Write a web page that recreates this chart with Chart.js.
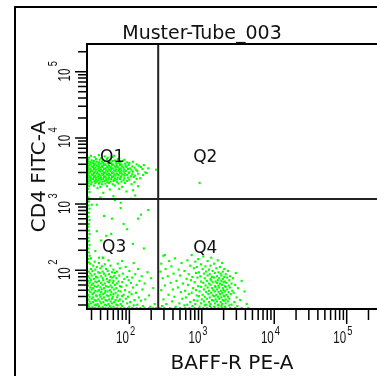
<!DOCTYPE html>
<html>
<head>
<meta charset="utf-8">
<title>Muster-Tube_003</title>
<script src="https://cdn.jsdelivr.net/npm/chart.js@4/dist/chart.umd.min.js"></script>
<style>
    html, body { margin: 0; padding: 0; background: #fff; overflow: hidden; }
    canvas { display: block; }
</style>
</head>
<body>
<canvas id="dotPlot" width="377" height="376"></canvas>
<script>
/**
 * Muster-Tube_003 - BAFF-R PE-A vs CD4 FITC-A dot plot
 * Events are kept as [log10 BAFF-R, log10 CD4] pairs.
 */

const TITLE = 'Muster-Tube_003';
const X_LABEL = 'BAFF-R PE-A';
const Y_LABEL = 'CD4 FITC-A';

// Axis range (fluorescence intensity) and quadrant gate
const AXIS_MIN = 26;
const AXIS_MAX = 262144;
const GATE_X = 250;
const GATE_Y = 1190;

const QUADRANTS = ['Q1', 'Q2', 'Q3', 'Q4'];

// Decade tick labels (10^n) and minor tick values
const X_EXPONENTS = [2, 3, 4, 5];
const Y_EXPONENTS = [2, 3, 4, 5];
const MINOR_TICKS = [
    30, 40, 50, 60, 70, 80, 90,
    200, 300, 400, 500, 600, 700, 800, 900,
    2000, 3000, 4000, 5000, 6000, 7000, 8000, 9000,
    20000, 30000, 40000, 50000, 60000, 70000, 80000, 90000,
    200000
];

// Q1: CD4+ BAFF-R- events
const q1Log = [
    [1.47,3.73],[1.58,3.74],[1.66,3.72],[1.79,3.73],
    [1.44,3.70],[1.52,3.71],[1.61,3.69],[1.70,3.70],[1.77,3.71],[1.86,3.69],
    [1.43,3.67],[1.48,3.66],[1.54,3.68],[1.59,3.67],[1.64,3.66],[1.69,3.68],[1.74,3.67],[1.80,3.66],[1.84,3.68],[1.93,3.67],
    [1.44,3.64],[1.47,3.63],[1.51,3.65],[1.55,3.64],[1.58,3.63],[1.62,3.64],[1.66,3.65],[1.70,3.63],[1.73,3.64],[1.77,3.65],[1.82,3.63],[1.87,3.64],[1.91,3.65],[1.97,3.63],[2.05,3.64],
    [1.43,3.61],[1.46,3.60],[1.50,3.62],[1.53,3.61],[1.57,3.60],[1.60,3.61],[1.64,3.62],[1.67,3.60],[1.71,3.61],[1.75,3.62],[1.78,3.60],[1.82,3.61],[1.86,3.62],[1.89,3.60],[1.94,3.61],[2.00,3.62],[2.10,3.60],
    [1.44,3.58],[1.48,3.57],[1.51,3.59],[1.55,3.58],[1.58,3.57],[1.62,3.58],[1.65,3.59],[1.69,3.57],[1.72,3.58],[1.76,3.59],[1.80,3.57],[1.83,3.58],[1.87,3.59],[1.90,3.57],[1.95,3.58],[1.99,3.59],[2.04,3.57],[2.13,3.58],[2.20,3.59],
    [1.43,3.55],[1.46,3.54],[1.50,3.56],[1.53,3.55],[1.57,3.54],[1.60,3.55],[1.63,3.56],[1.67,3.54],[1.70,3.55],[1.74,3.56],[1.77,3.54],[1.81,3.55],[1.84,3.56],[1.88,3.54],[1.92,3.55],[1.96,3.56],[2.01,3.54],[2.07,3.55],[2.16,3.56],[2.26,3.54],
    [1.44,3.52],[1.47,3.51],[1.51,3.53],[1.54,3.52],[1.58,3.51],[1.61,3.52],[1.65,3.53],[1.68,3.51],[1.72,3.52],[1.75,3.53],[1.79,3.51],[1.82,3.52],[1.86,3.53],[1.89,3.51],[1.93,3.52],[1.98,3.53],[2.03,3.51],[2.09,3.52],[2.18,3.53],[2.37,3.52],
    [1.43,3.49],[1.46,3.48],[1.49,3.50],[1.53,3.49],[1.56,3.48],[1.60,3.49],[1.63,3.50],[1.67,3.48],[1.70,3.49],[1.74,3.50],[1.77,3.48],[1.81,3.49],[1.85,3.50],[1.88,3.48],[1.92,3.49],[1.95,3.50],[2.00,3.48],[2.05,3.49],[2.11,3.50],[2.22,3.48],
    [1.44,3.46],[1.48,3.45],[1.51,3.47],[1.55,3.46],[1.58,3.45],[1.62,3.46],[1.65,3.47],[1.69,3.45],[1.72,3.46],[1.76,3.47],[1.79,3.45],[1.83,3.46],[1.87,3.47],[1.90,3.45],[1.94,3.46],[1.99,3.47],[2.04,3.45],[2.12,3.46],[2.24,3.47],
    [1.43,3.43],[1.46,3.42],[1.50,3.44],[1.53,3.43],[1.57,3.42],[1.60,3.43],[1.64,3.44],[1.67,3.42],[1.71,3.43],[1.74,3.44],[1.78,3.42],[1.81,3.43],[1.85,3.44],[1.89,3.42],[1.93,3.43],[1.97,3.44],[2.02,3.42],[2.08,3.43],[2.19,3.44],
    [1.44,3.40],[1.47,3.39],[1.51,3.41],[1.54,3.40],[1.58,3.39],[1.61,3.40],[1.65,3.41],[1.68,3.39],[1.72,3.40],[1.76,3.41],[1.80,3.39],[1.84,3.40],[1.88,3.41],[1.93,3.39],[1.98,3.40],[2.06,3.41],[2.15,3.39],
    [1.43,3.37],[1.46,3.36],[1.50,3.38],[1.54,3.37],[1.57,3.36],[1.61,3.37],[1.64,3.38],[1.68,3.36],[1.71,3.37],[1.75,3.38],[1.79,3.36],[1.83,3.37],[1.87,3.38],[1.92,3.36],[2.00,3.37],[2.10,3.38],
    [1.44,3.34],[1.48,3.33],[1.52,3.35],[1.55,3.34],[1.59,3.33],[1.63,3.34],[1.66,3.35],[1.70,3.33],[1.74,3.34],[1.78,3.35],[1.83,3.33],[1.89,3.34],[1.97,3.35],[2.07,3.33],
    [1.43,3.31],[1.47,3.30],[1.53,3.32],[1.58,3.31],[1.62,3.30],[1.67,3.31],[1.72,3.32],[1.77,3.30],[1.85,3.31],[1.94,3.32],[2.03,3.30],
    [1.44,3.27],[1.51,3.28],[1.60,3.26],[1.69,3.27],[1.80,3.28],[1.90,3.26],[2.12,3.27],
    [1.43,3.23],[1.56,3.24],[1.73,3.22],[1.86,3.23],[2.05,3.21],
    [1.45,3.18],[1.64,3.17],[1.96,3.19],[2.08,3.13],
    [1.43,3.10],[1.60,3.10],[1.78,3.12],[2.02,3.08]
];

// Q2: double positive (a single event)
const q2Log = [
    [2.97,3.32]
];

// Q3: double negative events, below the gate and along the left edge
const q3Log = [
    [1.44,3.04],[1.43,2.98],[1.45,2.93],[1.44,2.87],[1.43,2.81],[1.45,2.76],[1.44,2.70],[1.43,2.66],[1.44,2.60],[1.45,2.55],
    [1.43,2.49],[1.44,2.44],[1.45,2.38],[1.43,2.33],[1.44,2.27],[1.45,2.22],[1.43,2.17],[1.44,2.12],
    [1.55,2.99],[1.48,2.99],[1.80,3.06],[1.88,3.02],[1.88,2.94],[2.26,2.91],[2.16,2.84],[2.12,2.78],[1.65,2.82],[1.76,2.78],
    [1.97,2.62],[1.55,2.59],[1.68,2.52],[1.75,2.55],[2.05,2.40],[1.53,2.29],[1.64,2.19],[1.58,2.19],[1.92,2.70],[1.61,2.45],[2.20,2.33],
    [1.47,2.18],[1.63,2.19],
    [1.52,2.13],[1.71,2.15],[1.90,2.14],
    [1.46,2.10],[1.58,2.11],[1.66,2.09],[1.84,2.10],[2.06,2.11],
    [1.50,2.07],[1.55,2.05],[1.62,2.06],[1.74,2.07],[1.95,2.05],
    [1.47,2.02],[1.53,2.01],[1.60,2.03],[1.68,2.02],[1.78,2.01],[1.87,2.03],[2.12,2.02],
    [1.44,1.98],[1.49,1.99],[1.57,1.97],[1.63,1.98],[1.70,1.99],[1.76,1.97],[1.83,1.98],[2.00,1.99],[2.25,1.97],
    [1.46,1.95],[1.52,1.94],[1.59,1.96],[1.65,1.95],[1.72,1.94],[1.80,1.96],[1.91,1.95],[2.08,1.94],
    [1.43,1.91],[1.48,1.92],[1.54,1.90],[1.61,1.91],[1.67,1.92],[1.74,1.90],[1.79,1.91],[1.86,1.92],[1.97,1.90],[2.17,1.91],
    [1.45,1.88],[1.51,1.87],[1.56,1.89],[1.63,1.88],[1.69,1.87],[1.76,1.89],[1.82,1.88],[1.93,1.87],[2.04,1.89],[2.30,1.88],
    [1.43,1.84],[1.47,1.85],[1.53,1.83],[1.58,1.84],[1.64,1.85],[1.70,1.83],[1.73,1.85],[1.78,1.84],[1.85,1.83],[1.99,1.85],[2.14,1.84],
    [1.45,1.81],[1.50,1.80],[1.55,1.82],[1.61,1.81],[1.66,1.80],[1.72,1.82],[1.77,1.81],[1.83,1.80],[1.90,1.82],[2.02,1.81],[2.21,1.80],
    [1.43,1.77],[1.48,1.78],[1.52,1.76],[1.57,1.77],[1.63,1.78],[1.68,1.76],[1.74,1.77],[1.80,1.78],[1.87,1.76],[1.96,1.77],[2.10,1.78],
    [1.46,1.74],[1.50,1.73],[1.55,1.75],[1.60,1.74],[1.65,1.73],[1.71,1.75],[1.76,1.74],[1.82,1.73],[1.89,1.75],[2.05,1.74],[2.33,1.73],
    [1.44,1.70],[1.48,1.71],[1.53,1.69],[1.58,1.70],[1.62,1.71],[1.67,1.69],[1.73,1.70],[1.79,1.71],[1.85,1.69],[1.94,1.70],[2.18,1.71],
    [1.46,1.67],[1.51,1.66],[1.56,1.68],[1.61,1.67],[1.66,1.66],[1.70,1.68],[1.75,1.67],[1.81,1.66],[1.88,1.68],[2.00,1.67],[2.09,1.66],
    [1.43,1.63],[1.49,1.64],[1.54,1.62],[1.59,1.63],[1.64,1.64],[1.69,1.62],[1.74,1.63],[1.78,1.64],[1.84,1.62],[1.92,1.63],[2.03,1.64],[2.27,1.62],
    [1.45,1.60],[1.50,1.59],[1.55,1.61],[1.60,1.60],[1.65,1.59],[1.71,1.61],[1.77,1.60],[1.83,1.59],[1.90,1.61],[1.98,1.60],[2.13,1.59],
    [1.43,1.56],[1.48,1.57],[1.52,1.55],[1.57,1.56],[1.62,1.57],[1.67,1.55],[1.72,1.56],[1.76,1.57],[1.81,1.55],[1.87,1.56],[1.95,1.57],[2.07,1.55],[2.22,1.56],
    [1.45,1.53],[1.50,1.52],[1.54,1.54],[1.59,1.53],[1.64,1.52],[1.69,1.54],[1.74,1.53],[1.79,1.52],[1.85,1.54],[1.91,1.53],[2.01,1.52],[2.16,1.54],
    [1.43,1.49],[1.47,1.50],[1.52,1.48],[1.56,1.49],[1.61,1.50],[1.66,1.48],[1.71,1.49],[1.76,1.50],[1.82,1.48],[1.88,1.49],[1.97,1.50],[2.11,1.48],[2.35,1.49],
    [1.44,1.46],[1.49,1.45],[1.54,1.47],[1.58,1.46],[1.63,1.45],[1.68,1.47],[1.73,1.46],[1.78,1.45],[1.84,1.47],[1.90,1.46],[2.00,1.45],[2.06,1.47],[2.19,1.46],[2.29,1.45],
    [1.43,1.43],[1.46,1.43],[1.50,1.43],[1.53,1.43],[1.57,1.43],[1.60,1.43],[1.64,1.43],[1.67,1.43],[1.71,1.43],[1.75,1.43],[1.79,1.43],
    [1.83,1.43],[1.88,1.43],[1.93,1.43],[1.98,1.43],[2.04,1.43],[2.10,1.43],[2.15,1.43],[2.21,1.43],[2.27,1.43],[2.33,1.43],[2.37,1.43]
];

// Q4: BAFF-R+ CD4- events
const q4Log = [
    [2.49,2.23],[2.47,2.22],[2.86,2.23],[3.02,2.21],
    [2.63,2.18],[2.95,2.17],[3.13,2.19],
    [2.55,2.14],[2.80,2.15],[2.91,2.13],[3.08,2.14],[3.22,2.15],
    [2.44,2.10],[2.72,2.11],[2.99,2.09],[3.17,2.10],[3.28,2.11],
    [2.58,2.06],[2.84,2.07],[2.93,2.05],[3.05,2.06],[3.12,2.07],[3.25,2.05],
    [2.50,2.02],[2.68,2.01],[2.89,2.03],[3.01,2.02],[3.10,2.01],[3.20,2.03],[3.31,2.02],
    [2.43,1.98],[2.76,1.99],[2.96,1.97],[3.06,1.98],[3.15,1.99],[3.23,1.97],[3.29,1.98],[3.36,1.99],
    [2.61,1.95],[2.82,1.94],[2.92,1.96],[3.03,1.95],[3.11,1.94],[3.18,1.96],[3.26,1.95],[3.33,1.94],[3.47,1.96],
    [2.53,1.91],[2.70,1.92],[2.87,1.90],[2.98,1.91],[3.08,1.92],[3.14,1.90],[3.21,1.91],[3.27,1.92],[3.31,1.90],[3.39,1.91],
    [2.46,1.88],[2.79,1.87],[2.94,1.89],[3.04,1.88],[3.12,1.87],[3.17,1.89],[3.24,1.88],[3.29,1.87],[3.35,1.89],[3.43,1.88],
    [2.65,1.84],[2.85,1.85],[2.99,1.83],[3.07,1.84],[3.13,1.85],[3.19,1.83],[3.22,1.85],[3.27,1.84],[3.32,1.83],[3.38,1.85],[3.55,1.84],
    [2.57,1.81],[2.74,1.80],[2.90,1.82],[3.02,1.81],[3.10,1.80],[3.15,1.82],[3.21,1.81],[3.25,1.80],[3.30,1.82],[3.34,1.81],[3.41,1.80],
    [2.49,1.77],[2.81,1.78],[2.95,1.76],[3.05,1.77],[3.12,1.78],[3.18,1.76],[3.23,1.77],[3.28,1.78],[3.32,1.76],[3.37,1.77],[3.46,1.78],
    [2.67,1.74],[2.88,1.73],[2.99,1.75],[3.08,1.74],[3.14,1.73],[3.19,1.75],[3.24,1.74],[3.29,1.73],[3.33,1.75],[3.39,1.74],[3.50,1.73],
    [2.44,1.70],[2.60,1.71],[2.77,1.69],[2.92,1.70],[3.03,1.71],[3.10,1.69],[3.16,1.70],[3.21,1.71],[3.26,1.69],[3.30,1.70],[3.35,1.71],[3.42,1.69],
    [2.71,1.67],[2.86,1.66],[2.97,1.68],[3.06,1.67],[3.13,1.66],[3.18,1.68],[3.23,1.67],[3.28,1.66],[3.32,1.68],[3.37,1.67],[3.44,1.66],[3.59,1.68],
    [2.54,1.63],[2.82,1.64],[2.93,1.62],[3.01,1.63],[3.09,1.64],[3.15,1.62],[3.20,1.63],[3.25,1.64],[3.30,1.62],[3.34,1.63],[3.40,1.64],
    [2.62,1.60],[2.78,1.59],[2.96,1.61],[3.04,1.60],[3.11,1.59],[3.17,1.61],[3.22,1.60],[3.27,1.59],[3.31,1.61],[3.36,1.60],[3.48,1.59],
    [2.47,1.56],[2.73,1.57],[2.89,1.55],[3.00,1.56],[3.07,1.57],[3.14,1.55],[3.19,1.56],[3.24,1.57],[3.29,1.55],[3.33,1.56],[3.38,1.57],[3.53,1.55],
    [2.59,1.53],[2.84,1.52],[2.94,1.54],[3.03,1.53],[3.10,1.52],[3.16,1.54],[3.21,1.53],[3.26,1.52],[3.31,1.54],[3.36,1.53],[3.45,1.52],
    [2.51,1.49],[2.69,1.50],[2.80,1.48],[2.91,1.49],[2.99,1.50],[3.06,1.48],[3.12,1.49],[3.18,1.50],[3.23,1.48],[3.28,1.49],[3.33,1.50],[3.41,1.48],[3.62,1.49],
    [2.45,1.46],[2.64,1.45],[2.76,1.47],[2.87,1.46],[2.97,1.45],[3.04,1.47],[3.11,1.46],[3.17,1.45],[3.22,1.47],[3.27,1.46],[3.32,1.45],[3.38,1.47],[3.49,1.46],
    [2.42,1.43],[2.48,1.43],[2.56,1.43],[2.63,1.43],[2.70,1.43],[2.77,1.43],[2.83,1.43],[2.90,1.43],[2.96,1.43],[3.02,1.43],
    [3.07,1.43],[3.13,1.43],[3.18,1.43],[3.23,1.43],[3.28,1.43],[3.33,1.43],[3.39,1.43],[3.46,1.43],[3.55,1.43],[3.64,1.43]
];

// Dot colour
const EVENT_COLOR = '#00ff00';
const INK = '#111';

/**
 * Turn [log10 x, log10 y] pairs into intensity points
 */
function toEvents(pairs) {
    return pairs.map(([lx, ly]) => ({ x: Math.pow(10, lx), y: Math.pow(10, ly) }));
}

function eventDataset(label, pairs) {
    return {
        label: label,
        data: toEvents(pairs),
        pointStyle: 'rect',
        pointRadius: 1.5,
        pointBorderWidth: 0,
        backgroundColor: EVENT_COLOR,
        borderColor: EVENT_COLOR
    };
}

/**
 * Draw "10" with a raised exponent, around a tick along the text direction
 */
function drawDecade(ctx, exp, pos) {
    ctx.save();
    ctx.scale(0.72, 1);
    ctx.font = '16px "Liberation Sans", Arial, sans-serif';
    ctx.textAlign = 'right';
    ctx.fillText('10', pos.mainEnd / 0.72, 0);
    ctx.font = '13px "Liberation Sans", Arial, sans-serif';
    ctx.textAlign = 'left';
    ctx.fillText(String(exp), pos.supStart / 0.72, pos.rise);
    ctx.restore();
}

// Frame, gates, ticks and text of the dot plot
const facsDecor = {
    id: 'facsDecor',
    afterDatasetsDraw(chart) {
        const { ctx, chartArea: area, scales: { x, y } } = chart;
        ctx.save();

        // Outer window frame
        ctx.strokeStyle = '#000';
        ctx.lineWidth = 2;
        ctx.beginPath();
        ctx.moveTo(15, chart.height);
        ctx.lineTo(15, 7);
        ctx.lineTo(chart.width, 7);
        ctx.stroke();

        // Quadrant gate
        const gx = x.getPixelForValue(GATE_X);
        const gy = y.getPixelForValue(GATE_Y);
        ctx.strokeStyle = '#222';
        ctx.beginPath();
        ctx.moveTo(gx, area.top);
        ctx.lineTo(gx, area.bottom);
        ctx.moveTo(area.left, gy);
        ctx.lineTo(area.right, gy);
        ctx.stroke();

        // Plot border
        ctx.strokeStyle = '#000';
        ctx.beginPath();
        ctx.moveTo(area.right + 2, area.top);
        ctx.lineTo(area.left, area.top);
        ctx.lineTo(area.left, area.bottom);
        ctx.lineTo(area.right + 2, area.bottom);
        ctx.stroke();

        // Tick marks
        ctx.lineWidth = 1.5;
        ctx.beginPath();
        MINOR_TICKS.forEach(v => {
            const px = x.getPixelForValue(v);
            ctx.moveTo(px, area.bottom + 1);
            ctx.lineTo(px, area.bottom + 11);
            const py = y.getPixelForValue(v);
            ctx.moveTo(area.left - 1, py);
            ctx.lineTo(area.left - 9, py);
        });
        X_EXPONENTS.forEach(e => {
            const px = x.getPixelForValue(Math.pow(10, e));
            ctx.moveTo(px, area.bottom + 1);
            ctx.lineTo(px, area.bottom + 15);
        });
        Y_EXPONENTS.forEach(e => {
            const py = y.getPixelForValue(Math.pow(10, e));
            ctx.moveTo(area.left - 1, py);
            ctx.lineTo(area.left - 12, py);
        });
        ctx.stroke();

        // Decade labels
        ctx.fillStyle = INK;
        ctx.textBaseline = 'alphabetic';
        X_EXPONENTS.forEach(e => {
            const px = x.getPixelForValue(Math.pow(10, e));
            ctx.save();
            ctx.translate(px, area.bottom + 34);
            drawDecade(ctx, e, { mainEnd: -0.5, supStart: 0.5, rise: -8 });
            ctx.restore();
        });
        Y_EXPONENTS.forEach(e => {
            const py = y.getPixelForValue(Math.pow(10, e));
            ctx.save();
            ctx.translate(area.left - 17, py);
            ctx.rotate(-Math.PI / 2);
            drawDecade(ctx, e, { mainEnd: 3, supStart: 5.5, rise: -13 });
            ctx.restore();
        });

        // Title and axis titles
        ctx.font = '19px "DejaVu Sans", sans-serif';
        ctx.textAlign = 'center';
        ctx.fillText(TITLE, 202, 39);

        ctx.font = '20px "DejaVu Sans", sans-serif';
        ctx.fillText(X_LABEL, (area.left + area.right) / 2, 369);
        ctx.save();
        ctx.translate(45, (area.top + area.bottom) / 2);
        ctx.rotate(-Math.PI / 2);
        ctx.fillText(Y_LABEL, 0, 0);
        ctx.restore();

        // Quadrant names
        ctx.font = '17px "DejaVu Sans", sans-serif';
        ctx.textAlign = 'left';
        ctx.fillText(QUADRANTS[0], area.left + 13, 162);
        ctx.fillText(QUADRANTS[1], gx + 35, 162);
        ctx.fillText(QUADRANTS[2], area.left + 15, 252);
        ctx.fillText(QUADRANTS[3], gx + 35, 253);

        ctx.restore();
    }
};

const dotPlot = new Chart(document.getElementById('dotPlot').getContext('2d'), {
    type: 'scatter',
    data: {
        datasets: [
            eventDataset('Q1', q1Log),
            eventDataset('Q2', q2Log),
            eventDataset('Q3', q3Log),
            eventDataset('Q4', q4Log)
        ]
    },
    options: {
        responsive: false,
        animation: false,
        events: [],
        layout: {
            autoPadding: false,
            padding: { left: 87, top: 44, right: 0, bottom: 67 }
        },
        plugins: {
            legend: { display: false },
            tooltip: { enabled: false }
        },
        scales: {
            x: { type: 'logarithmic', min: AXIS_MIN, max: AXIS_MAX, display: false },
            y: { type: 'logarithmic', min: AXIS_MIN, max: AXIS_MAX, display: false }
        }
    },
    plugins: [facsDecor]
});
</script>
</body>
</html>
